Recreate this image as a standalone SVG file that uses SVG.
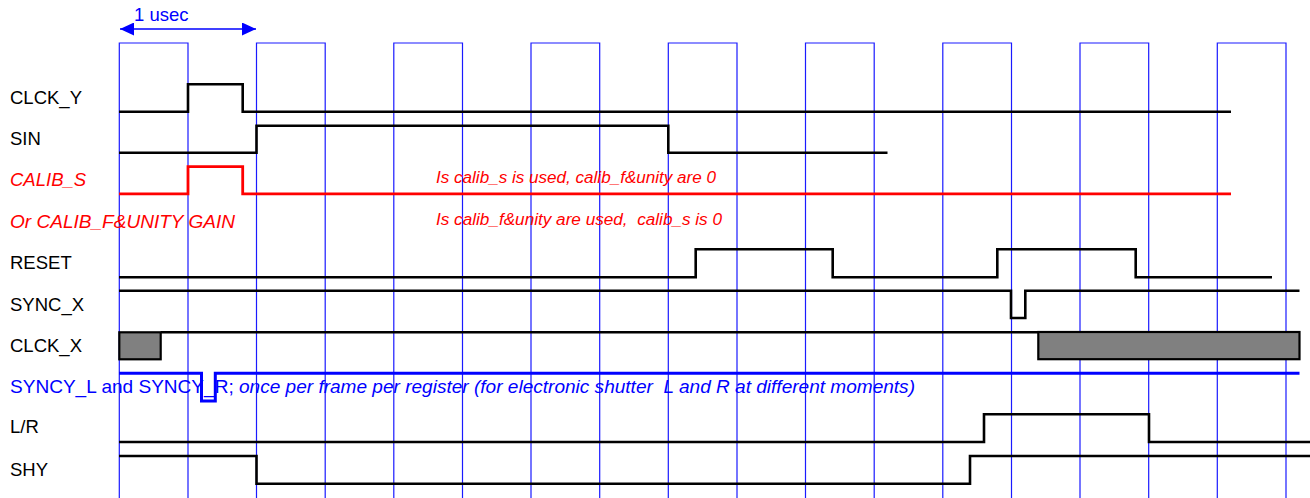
<svg xmlns="http://www.w3.org/2000/svg" width="1310" height="498" viewBox="0 0 1310 498">
<style>
.lbl{font-family:"Liberation Sans",Arial,sans-serif;font-size:18.5px;fill:#000}
.red{fill:#ff0000;font-style:italic}
.note{font-family:"Liberation Sans",Arial,sans-serif;font-size:16px;font-style:italic;fill:#ff0000}
.blue{fill:#0000ff}
.it{font-style:italic}
.box{fill:none;stroke:#1a1aff;stroke-width:1.2}
.sig{fill:none;stroke:#000;stroke-width:2.6;stroke-linejoin:miter}
.sigr{fill:none;stroke:#ff0000;stroke-width:2.8}
.sigb{fill:none;stroke:#0000ff;stroke-width:3}
.gray{fill:#808080;stroke:#000;stroke-width:2.2}
</style>
<defs>
<marker id="ah" viewBox="0 0 14 13" refX="14" refY="6.5" markerWidth="14" markerHeight="13" markerUnits="userSpaceOnUse" orient="auto-start-reverse">
<path d="M0,0 L14,6.5 L0,13 Z" fill="#0000ff"/>
</marker>
</defs>
<g id="clock-grid">
<path class="box" d="M119.3,498 V43 H188 V498"/>
<path class="box" d="M256.5,498 V43 H325.2 V498"/>
<path class="box" d="M393.8,498 V43 H462.5 V498"/>
<path class="box" d="M531,498 V43 H599.7 V498"/>
<path class="box" d="M668.3,498 V43 H737 V498"/>
<path class="box" d="M805.5,498 V43 H874.2 V498"/>
<path class="box" d="M942.8,498 V43 H1011.5 V498"/>
<path class="box" d="M1080,498 V43 H1148.7 V498"/>
<path class="box" d="M1217.3,498 V43 H1286 V498"/>
</g>
<g id="scale">
<line x1="120" y1="29" x2="256" y2="29" stroke="#0000ff" stroke-width="1.5" marker-start="url(#ah)" marker-end="url(#ah)"/>
<text class="lbl blue" x="134" y="20.5">1 usec</text>
</g>
<g id="labels">
<text class="lbl" x="10" y="104.3">CLCK_Y</text>
<text class="lbl" x="10" y="145">SIN</text>
<text class="lbl red" x="10" y="186">CALIB_S</text>
<text class="lbl red" x="10" y="227.7" textLength="225" lengthAdjust="spacingAndGlyphs">Or CALIB_F&amp;UNITY GAIN</text>
<text class="lbl" x="10" y="269">RESET</text>
<text class="lbl" x="10" y="310.7">SYNC_X</text>
<text class="lbl" x="10" y="352.3">CLCK_X</text>
<text class="lbl blue" x="10" y="393.3" textLength="905" lengthAdjust="spacingAndGlyphs" xml:space="preserve">SYNCY_L and SYNCY_R; <tspan class="it">once per frame per register (for electronic shutter  L and R at different moments)</tspan></text>
<text class="lbl" x="10" y="433.3">L/R</text>
<text class="lbl" x="10" y="475.7">SHY</text>
<text class="note" x="436" y="183.3" textLength="280" lengthAdjust="spacingAndGlyphs">Is calib_s is used, calib_f&amp;unity are 0</text>
<text class="note" x="436" y="225" textLength="286" lengthAdjust="spacingAndGlyphs" xml:space="preserve">Is calib_f&amp;unity are used,  calib_s is 0</text>
</g>
<g id="signals">
<path id="clck_y" class="sig" d="M119,111.7 H188 V84.3 H242.7 V111.7 H1231"/>
<path id="sin" class="sig" d="M119,152.7 H256.5 V125.7 H668.3 V152.7 H887.5"/>
<path id="calib_s" class="sigr" d="M119,193.8 H188 V166.7 H242.7 V193.8 H1231"/>
<path id="reset" class="sig" d="M119,277.3 H695.7 V249.2 H832.7 V277.3 H997.3 V249.2 H1135.7 V277.3 H1272"/>
<path id="sync_x" class="sig" d="M119,290.8 H1011 V318 H1025.3 V290.8 H1299.5"/>
<g id="clck_x">
<rect class="gray" x="119.3" y="332.3" width="41.4" height="27"/>
<path class="sig" d="M160.7,332.3 H1038.3"/>
<rect class="gray" x="1038.3" y="332" width="261.2" height="27.2"/>
</g>
<path id="syncy" class="sigb" d="M119,373.2 H201.5 V401 H215.3 V373.2 H1299.5"/>
<path id="lr" class="sig" d="M119,442 H984 V414.3 H1149 V442 H1310"/>
<path id="shy" class="sig" d="M119,456 H256.5 V483.7 H970 V456 H1310"/>
</g>
</svg>
